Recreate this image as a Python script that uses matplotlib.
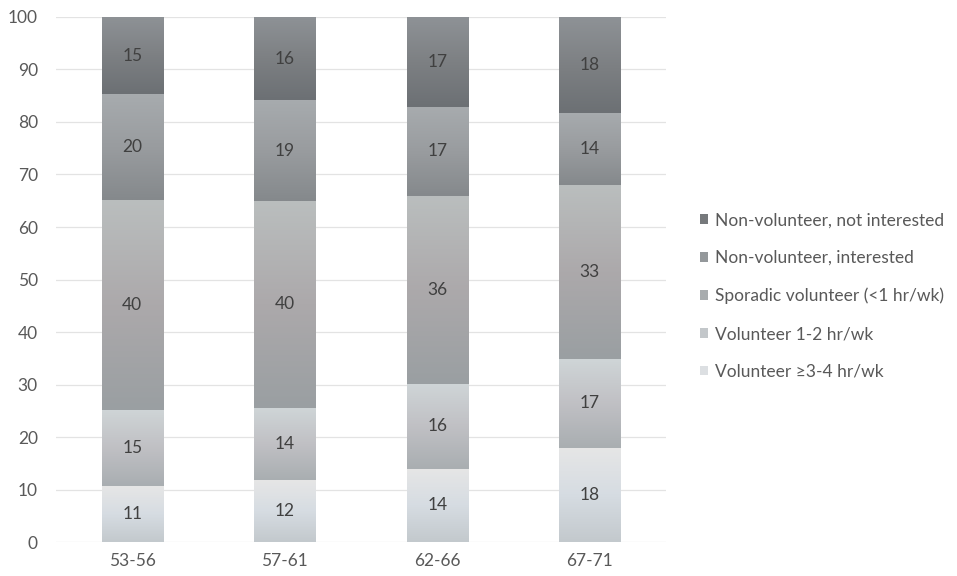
import numpy as np
import matplotlib
matplotlib.use("Agg")
import matplotlib.pyplot as plt
from matplotlib.patches import Patch
from matplotlib.colors import to_rgb

plt.rcParams['font.family'] = ['Lato', 'DejaVu Sans']

# Data (percent), bottom series first
ages = ['53-56', '57-61', '62-66', '67-71']
series = ['Volunteer \u22653-4 hr/wk', 'Volunteer 1-2 hr/wk', 'Sporadic volunteer (<1 hr/wk)',
          'Non-volunteer, interested', 'Non-volunteer, not interested']
vol_3plus = [10.6, 11.8, 14.0, 18.0]
vol_1_2 = [14.6, 13.7, 16.1, 16.8]
sporadic = [40.0, 39.5, 35.9, 33.2]
nonvol_int = [20.1, 19.1, 16.9, 13.8]
nonvol_not = [14.7, 15.9, 17.1, 18.2]
values = [vol_3plus, vol_1_2, sporadic, nonvol_int, nonvol_not]

# gradient stops (top, middle, bottom) for each series
grads = [
    ('#e6e6e6', '#d6dce2', '#c3c9cd'),
    ('#cfd5d7', '#c0c0c4', '#a9aeb1'),
    ('#babebe', '#aca9ab', '#9a9fa2'),
    ('#a7abae', '#999c9f', '#85898c'),
    ('#8e9296', '#7d8083', '#6c7074'),
]
legend_cols = ['#dcdfe2', '#c3c7ca', '#a8acae', '#94989b', '#76797c']


def gradient(stops, n=100):
    c = [np.array(to_rgb(s)) for s in stops]
    t = np.linspace(0, 1, n)
    out = np.empty((n, 1, 3))
    for i, v in enumerate(t):
        if v < 0.5:
            out[i, 0] = c[0] + (c[1] - c[0]) * v / 0.5
        else:
            out[i, 0] = c[1] + (c[2] - c[1]) * (v - 0.5) / 0.5
    return out


fig = plt.figure(figsize=(9.57, 5.76), dpi=100)
ax = fig.add_axes([0.0585, 0.059, 0.6375, 0.9115])

x = np.arange(len(ages))
bottom = np.zeros(len(ages))
for vals, stops in zip(values, grads):
    bars = ax.bar(x, vals, width=0.4, bottom=bottom, color='none', edgecolor='none', zorder=2)
    img = gradient(stops)
    for rect, v in zip(bars, vals):
        x0, y0 = rect.get_x(), rect.get_y()
        w, h = rect.get_width(), rect.get_height()
        ax.imshow(img, extent=[x0, x0 + w, y0, y0 + h], aspect='auto', zorder=2,
                  interpolation='bilinear')
        ax.text(x0 + w / 2, y0 + h / 2, '%d' % round(v), ha='center', va='center',
                fontsize=12.5, color='#404040', zorder=3)
    bottom += np.array(vals)

ax.set_xlim(-0.5, len(ages) - 0.5)
ax.set_ylim(0, 100)
ax.set_yticks(range(0, 101, 10))
ax.set_xticks(x)
ax.set_xticklabels(ages)
ax.grid(axis='y', color='#e3e3e3', linewidth=0.9, zorder=0)
ax.set_axisbelow(True)
for s in ax.spines.values():
    s.set_visible(False)
ax.tick_params(axis='both', length=0, labelsize=12.5, labelcolor='#595959')
ax.tick_params(axis='y', pad=13)
ax.tick_params(axis='x', pad=8)

handles = [Patch(facecolor=c, edgecolor='none') for c in legend_cols]
fig.legend(handles[::-1], series[::-1], loc='center left', bbox_to_anchor=(0.7225, 0.486),
           frameon=False, fontsize=12.5, labelcolor='#595959', handlelength=0.48,
           handleheight=0.48, handletextpad=0.4, labelspacing=1.25, borderpad=0)

fig.savefig('out.png', dpi=100)
